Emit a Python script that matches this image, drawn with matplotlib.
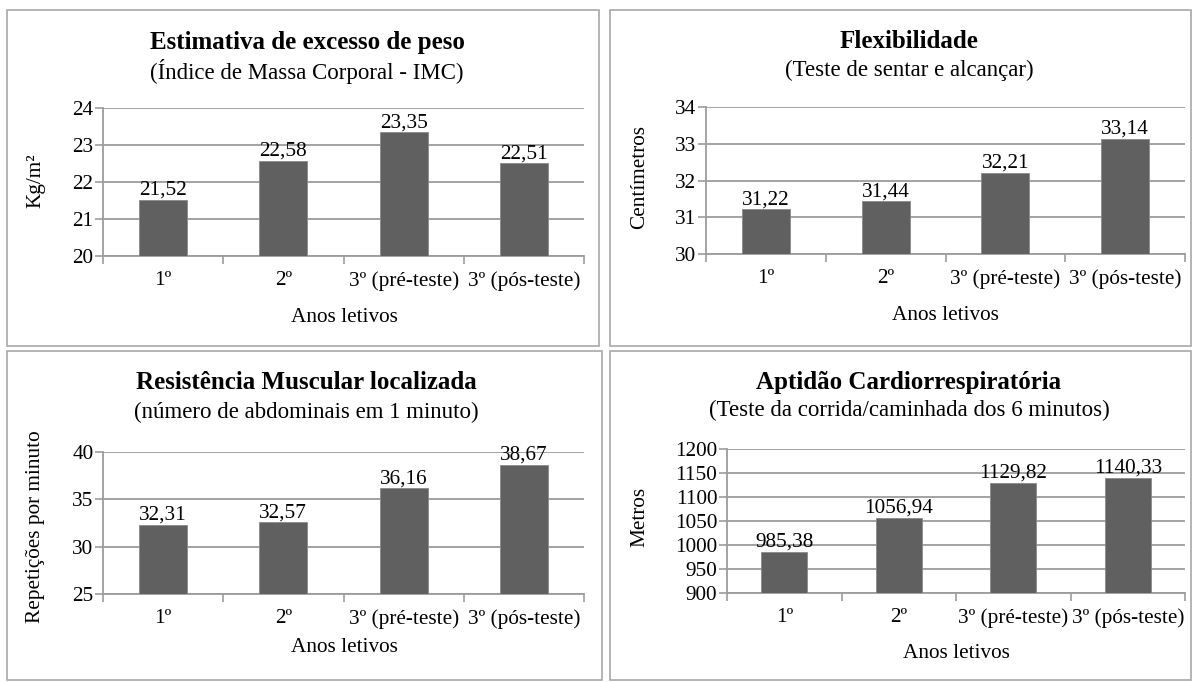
import matplotlib
matplotlib.use("Agg")
import matplotlib.pyplot as plt
from matplotlib.patches import Rectangle

plt.rcParams['font.family'] = ['Liberation Serif', 'DejaVu Serif']

categories = ["1º", "2º", "3º (pré-teste)", "3º (pós-teste)"]

imc_values = [21.52, 22.58, 23.35, 22.51]
flex_values = [31.22, 31.44, 32.21, 33.14]
res_values = [32.31, 32.57, 36.16, 38.67]
cardio_values = [985.38, 1056.94, 1129.82, 1140.33]

imc_ticks = [20, 21, 22, 23, 24]
flex_ticks = [30, 31, 32, 33, 34]
res_ticks = [25, 30, 35, 40]
cardio_ticks = [900, 950, 1000, 1050, 1100, 1150, 1200]

titles = ["Estimativa de excesso de peso", "Flexibilidade",
          "Resistência Muscular localizada", "Aptidão Cardiorrespiratória"]
subtitles = ["(Índice de Massa Corporal - IMC)", "(Teste de sentar e alcançar)",
             "(número de abdominais em 1 minuto)",
             "(Teste da corrida/caminhada dos 6 minutos)"]
ylabels = ["Kg/m²", "Centímetros", "Repetições por minuto", "Metros"]
xlabel = "Anos letivos"

W, H = 1196, 682
fig = plt.figure(figsize=(W / 100, H / 100), dpi=100)
fig.patch.set_facecolor('white')

def fx(x):
    return x / W

def fy(y):
    return 1 - y / H

# panel borders (pixel coords: left, top, right, bottom)
borders = [(7, 10, 599, 346), (610, 10, 1191, 346),
           (7, 351, 602, 680), (610, 351, 1191, 680)]
for (l, t, r, b) in borders:
    fig.patches.append(Rectangle((fx(l), fy(b)), fx(r - l), (b - t) / H,
                                 transform=fig.transFigure, fill=False,
                                 edgecolor='#a8a8a8', linewidth=1.2))

def fmt(v):
    return f"{v:.2f}".replace('.', ',')

panels = [
    dict(vals=imc_values, ticks=imc_ticks, ax=(103, 108, 584, 256),
         title=(307, 43), sub=(307, 72), yl=(36, 181), xl=(344, 317)),
    dict(vals=flex_values, ticks=flex_ticks, ax=(706, 107, 1185, 254),
         title=(909, 42), sub=(909, 70), yl=(640, 177), xl=(945, 315)),
    dict(vals=res_values, ticks=res_ticks, ax=(103, 452, 584, 594),
         title=(306, 383), sub=(306, 412), yl=(36, 527), xl=(344, 648)),
    dict(vals=cardio_values, ticks=cardio_ticks, ax=(727, 449, 1185, 593),
         title=(909, 383), sub=(909, 410), yl=(640, 517), xl=(956, 653)),
]

grid_color = '#9c9c9c'
bar_color = '#606060'
fs = 15.3

for i, p in enumerate(panels):
    l, t, r, b = p['ax']
    ax = fig.add_axes([fx(l), fy(b), fx(r - l), (b - t) / H])
    x = list(range(len(categories)))
    bars = ax.bar(x, p['vals'], width=0.4, color=bar_color,
                  edgecolor='#8a8a8a', linewidth=0.6, zorder=3)
    ax.set_xlim(-0.5, len(categories) - 0.5)
    ax.set_ylim(p['ticks'][0], p['ticks'][-1])
    ax.set_yticks(p['ticks'])
    ax.set_yticklabels([str(v) for v in p['ticks']], fontsize=fs)
    ax.yaxis.grid(True, color=grid_color, linewidth=1.3, zorder=0)
    ax.set_axisbelow(True)
    ax.set_xticks(x)
    ax.set_xticklabels(categories, fontsize=fs)
    ax.tick_params(axis='x', length=0, pad=11)
    ax.set_xticks([k - 0.5 for k in range(len(categories) + 1)], minor=True)
    ax.tick_params(axis='x', which='minor', length=6, color=grid_color, width=1.2, direction='out')
    ax.tick_params(axis='y', length=6, color=grid_color, width=1.2, direction='out', pad=1)
    for s in ['top', 'right']:
        ax.spines[s].set_visible(False)
    for s in ['left', 'bottom']:
        ax.spines[s].set_color(grid_color)
        ax.spines[s].set_linewidth(1.3)
    for rect, v in zip(bars, p['vals']):
        ax.annotate(fmt(v), (rect.get_x() + rect.get_width() / 2, v),
                    xytext=(0, 0), textcoords='offset points',
                    ha='center', va='bottom', fontsize=fs, clip_on=False)
    fig.text(fx(p['title'][0]), fy(p['title'][1]), titles[i], ha='center',
             va='center', fontsize=18, fontweight='bold')
    fig.text(fx(p['sub'][0]), fy(p['sub'][1]), subtitles[i], ha='center',
             va='center', fontsize=16.5)
    fig.text(fx(p['yl'][0]), fy(p['yl'][1]), ylabels[i], ha='center',
             va='center', rotation=90, fontsize=fs)
    fig.text(fx(p['xl'][0]), fy(p['xl'][1]), xlabel, ha='center',
             va='center', fontsize=fs)

fig.savefig('out.png', dpi=100, facecolor='white')
